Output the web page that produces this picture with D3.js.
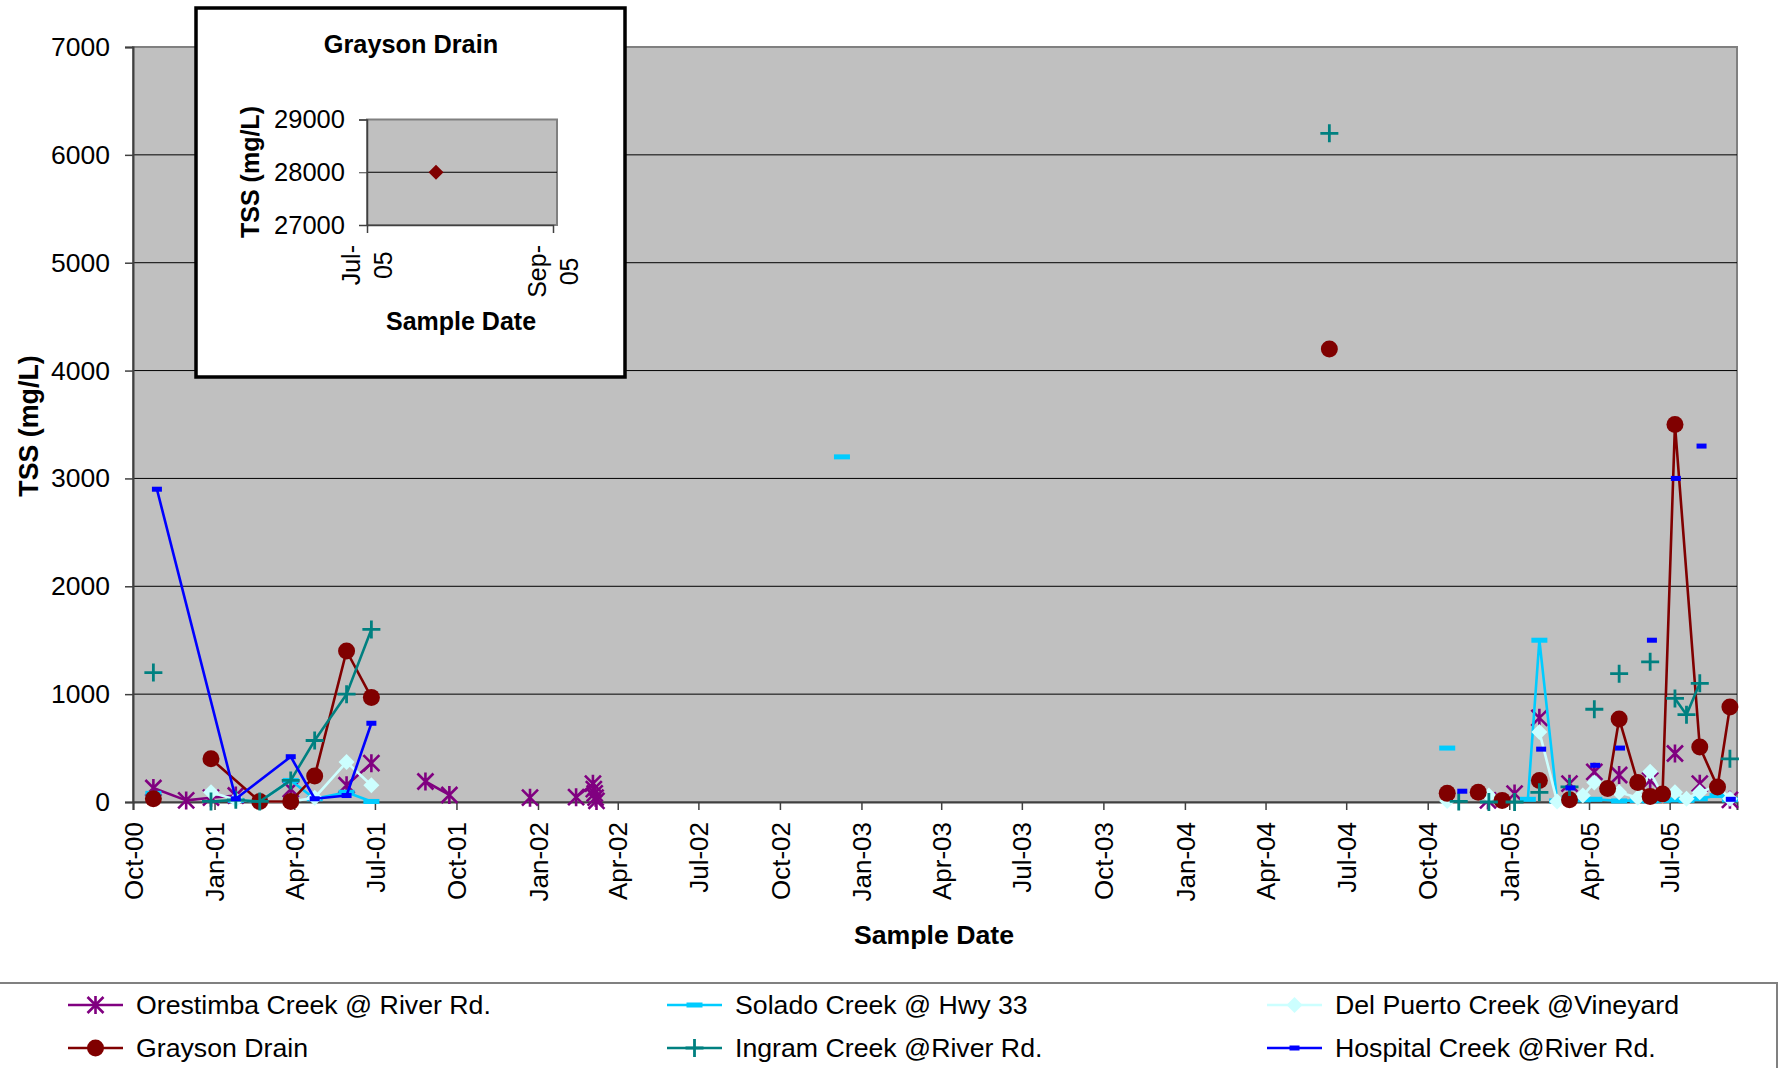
<!DOCTYPE html>
<html><head><meta charset="utf-8">
<script src="https://cdn.jsdelivr.net/npm/d3@7"></script>
<style>html,body{margin:0;padding:0;background:#fff;} svg{display:block;font-family:"Liberation Sans",Arial,sans-serif;}</style>
</head><body>
<svg id="chart" width="1780" height="1068"></svg>
<script>
// ---------- DATA ----------
const yTickValues = [0,1000,2000,3000,4000,5000,6000,7000];
const insetYTickValues = [27000,28000,29000];
const insetXTickLabels = ["2005-07-01","2005-09-01"];
const seriesNames = ["Orestimba Creek @ River Rd.","Solado Creek @ Hwy 33","Del Puerto Creek @Vineyard","Grayson Drain","Ingram Creek @River Rd.","Hospital Creek @River Rd."];

// null entries = break in the line
const orestimbaDates = ["2000-10-24","2000-11-30","2000-12-28","2001-01-25",null,"2001-03-28",null,"2001-05-30","2001-06-27",null,"2001-08-27","2001-09-23",null,"2001-12-23",null,"2002-02-13","2002-03-04","2002-03-05","2002-03-06","2002-03-07","2002-03-08",null,"2004-12-08",null,"2005-01-07",null,"2005-02-04",null,"2005-03-10",null,"2005-04-07",null,"2005-05-05",null,"2005-06-09",null,"2005-07-07",null,"2005-08-04",null,"2005-09-07"];
const orestimbaValues = [130,15,40,60,null,120,null,155,360,null,190,65,null,40,null,45,170,120,80,40,10,null,15,null,78,null,780,null,170,null,280,null,250,null,200,null,450,null,170,null,20];

const soladoDates = ["2000-10-24",null,"2001-01-25","2001-02-21","2001-03-28","2001-04-24","2001-05-30","2001-06-27",null,"2002-12-10",null,"2004-10-23",null,"2005-01-22","2005-02-04","2005-02-24","2005-03-10","2005-03-25","2005-04-07","2005-05-05","2005-05-26","2005-06-09","2005-06-23","2005-07-07","2005-07-20","2005-08-04","2005-08-24","2005-09-07"];
const soladoValues = [80,null,15,5,200,30,90,5,null,3200,null,500,null,25,1500,10,40,20,25,10,15,10,15,20,15,30,60,20];

const delPuertoDates = ["2000-12-28","2001-01-25","2001-02-21","2001-03-28","2001-04-24","2001-05-30","2001-06-27",null,"2004-10-23",null,"2004-12-09",null,"2005-02-04","2005-02-24","2005-03-10","2005-03-25","2005-04-07","2005-05-05","2005-05-26","2005-06-09","2005-06-23","2005-07-07","2005-07-20","2005-08-04","2005-08-24","2005-09-07"];
const delPuertoValues = [90,20,5,5,40,370,155,null,10,null,60,null,650,5,30,60,180,90,40,280,60,90,30,90,150,30];

const graysonDates = ["2000-10-24",null,"2000-12-28","2001-02-21","2001-03-28","2001-04-24","2001-05-30","2001-06-27",null,"2004-06-12",null,"2004-10-23",null,"2004-11-27",null,"2004-12-24",null,"2005-02-04",null,"2005-03-10",null,"2005-04-22","2005-05-05","2005-05-26","2005-06-09","2005-06-23","2005-07-07","2005-08-04","2005-08-24","2005-09-07"];
const graysonValues = [30,null,400,5,5,240,1400,970,null,4200,null,80,null,90,null,15,null,200,null,20,null,125,770,180,50,75,3500,510,140,880];

const ingramDates = ["2000-10-24",null,"2000-12-28","2001-01-25","2001-02-21","2001-03-28","2001-04-24","2001-05-30","2001-06-27",null,"2004-06-12",null,"2004-11-05",null,"2004-12-09",null,"2005-01-07",null,"2005-02-04",null,"2005-03-10",null,"2005-04-07",null,"2005-05-05",null,"2005-06-09",null,"2005-07-07","2005-07-20","2005-08-04",null,"2005-09-07"];
const ingramValues = [1200,null,5,20,5,200,570,1000,1600,null,6200,null,5,null,0,null,0,null,90,null,140,null,860,null,1190,null,1300,null,960,810,1100,null,400];

const hospitalDates = ["2000-10-28","2001-01-25","2001-03-28","2001-04-24","2001-05-30","2001-06-27",null,"2004-11-09",null,"2005-02-06",null,"2005-03-11",null,"2005-04-08",null,"2005-05-06",null,"2005-06-11",null,"2005-07-08",null,"2005-08-06",null,"2005-09-08"];
const hospitalValues = [2900,30,420,30,60,730,null,100,null,490,null,130,null,340,null,500,null,1500,null,3000,null,3300,null,25];

const insetDates = ["2005-07-24"];
const insetValues = [28000];

// ---------- STYLES ----------
const styles = [
  {color:"#800080", marker:"star"},
  {color:"#00CCFF", marker:"dashL"},
  {color:"#CCFFFF", marker:"diamond"},
  {color:"#800000", marker:"circle"},
  {color:"#008080", marker:"plus"},
  {color:"#0000FF", marker:"dashS"}
];
const seriesData = [
  [orestimbaDates, orestimbaValues],
  [soladoDates, soladoValues],
  [delPuertoDates, delPuertoValues],
  [graysonDates, graysonValues],
  [ingramDates, ingramValues],
  [hospitalDates, hospitalValues]
].map(([ds, vs]) => ds.map((d,i) => ({date: d ? d3.isoParse(d) : null, v: vs[i]})));

const svg = d3.select("#chart");
const FONT = '"Liberation Sans",Arial,sans-serif';

const x = d3.scaleUtc().domain([new Date(Date.UTC(2000,9,1)), new Date(Date.UTC(2005,8,15))]).range([133,1737]);
const y = d3.scaleLinear().domain([0,7000]).range([802,47]);

// plot area
svg.append("rect").attr("x",133).attr("y",47).attr("width",1737-133).attr("height",802-47)
  .attr("fill","#C0C0C0").attr("stroke","#808080").attr("stroke-width",2);
svg.append("g").selectAll("line").data(yTickValues.filter(v=>v>0 && v<7000)).join("line")
  .attr("x1",133).attr("x2",1737).attr("y1",d=>y(d)).attr("y2",d=>y(d))
  .attr("stroke","#000").attr("stroke-width",1);

// y axis
const gy = svg.append("g").attr("transform","translate(133,0)")
  .call(d3.axisLeft(y).tickValues(yTickValues).tickSize(8).tickPadding(15).tickFormat(d3.format("d")));
gy.select(".domain").attr("stroke","#404040").attr("stroke-width",2);
gy.selectAll(".tick line").attr("stroke","#404040").attr("stroke-width",1.5);
gy.selectAll("text").attr("font-size","26.5px").attr("font-family",FONT).attr("fill","#000");

// x axis
const gx = svg.append("g").attr("transform","translate(0,802)")
  .call(d3.axisBottom(x).ticks(d3.utcMonth.every(3)).tickSize(8).tickFormat(d3.utcFormat("%b-%y")));
gx.select(".domain").attr("stroke","#404040").attr("stroke-width",2);
gx.selectAll(".tick line").attr("stroke","#404040").attr("stroke-width",1.5);
gx.selectAll("text").attr("font-size","26px").attr("font-family",FONT).attr("fill","#000")
  .attr("transform","rotate(-90)").attr("text-anchor","end")
  .attr("x",-20).attr("y",0).attr("dy","0.35em");

// titles
svg.append("text").attr("x",934).attr("y",944).attr("text-anchor","middle")
  .attr("font-size","26.7px").attr("font-weight","bold").text("Sample Date");
svg.append("text").attr("transform","translate(38,426) rotate(-90)").attr("text-anchor","middle")
  .attr("font-size","26.8px").attr("font-weight","bold").text("TSS (mg/L)");

// markers
function drawMarker(g, type, color, cx, cy, scale=1) {
  const s = 8*scale;
  if (type==="star") {
    g.append("path").attr("d",`M${cx-s},${cy-s}L${cx+s},${cy+s}M${cx-s},${cy+s}L${cx+s},${cy-s}M${cx},${cy-s-1}L${cx},${cy+s+1}`)
      .attr("stroke",color).attr("stroke-width",2.6).attr("fill","none");
  } else if (type==="plus") {
    g.append("path").attr("d",`M${cx-s-1},${cy}L${cx+s+1},${cy}M${cx},${cy-s-1}L${cx},${cy+s+1}`)
      .attr("stroke",color).attr("stroke-width",2.8).attr("fill","none");
  } else if (type==="circle") {
    g.append("circle").attr("cx",cx).attr("cy",cy).attr("r",8.5*scale).attr("fill",color);
  } else if (type==="diamond") {
    const d = 8*scale;
    g.append("path").attr("d",`M${cx},${cy-d}L${cx+d},${cy}L${cx},${cy+d}L${cx-d},${cy}Z`).attr("fill",color);
  } else if (type==="dashL") {
    g.append("rect").attr("x",cx-8).attr("y",cy-2.5).attr("width",16).attr("height",5).attr("fill",color);
  } else if (type==="dashS") {
    g.append("rect").attr("x",cx-5).attr("y",cy-2.5).attr("width",10).attr("height",5).attr("fill",color);
  }
}

const line = d3.line().defined(d=>d.v!=null).x(d=>x(d.date)).y(d=>y(d.v));
seriesData.forEach((data,i)=>{
  const st = styles[i];
  const g = svg.append("g");
  g.append("path").datum(data).attr("d",line).attr("fill","none")
    .attr("stroke",st.color).attr("stroke-width",2.6).attr("stroke-linejoin","round");
  data.filter(d=>d.v!=null).forEach(d=>drawMarker(g, st.marker, st.color, x(d.date), y(d.v)));
});

// ---------- INSET ----------
const inset = svg.append("g");
inset.append("rect").attr("x",196).attr("y",8).attr("width",429).attr("height",369)
  .attr("fill","#fff").attr("stroke","#000").attr("stroke-width",3.5);
inset.append("text").attr("x",411).attr("y",53).attr("text-anchor","middle")
  .attr("font-size","25.3px").attr("font-weight","bold").text("Grayson Drain");
const xi = d3.scaleUtc().domain([d3.isoParse(insetXTickLabels[0]), d3.isoParse(insetXTickLabels[1])]).range([367,553]);
const yi = d3.scaleLinear().domain([27000,29000]).range([225,119.5]);
inset.append("rect").attr("x",367).attr("y",119.5).attr("width",557-367).attr("height",225-119.5)
  .attr("fill","#C0C0C0").attr("stroke","#808080").attr("stroke-width",2);
inset.selectAll("line.ig").data(insetYTickValues.filter(v=>v>27000 && v<29000)).join("line")
  .attr("x1",367).attr("x2",557).attr("y1",d=>yi(d)).attr("y2",d=>yi(d)).attr("stroke","#000").attr("stroke-width",1);
const giy = inset.append("g").attr("transform","translate(367,0)")
  .call(d3.axisLeft(yi).tickValues(insetYTickValues).tickSize(8).tickPadding(14).tickFormat(d3.format("d")));
giy.select(".domain").attr("stroke","#404040").attr("stroke-width",1.5);
giy.selectAll(".tick line").attr("stroke","#404040");
giy.selectAll("text").attr("font-size","25.5px").attr("font-family",FONT).attr("fill","#000");
const gix = inset.append("g").attr("transform","translate(0,225)")
  .call(d3.axisBottom(xi).tickValues(insetXTickLabels.map(d3.isoParse)).tickSize(8).tickFormat(()=>""));
gix.select(".domain").attr("stroke","#404040").attr("stroke-width",1.5);
gix.selectAll(".tick line").attr("stroke","#404040");
const fmt = d3.utcFormat("%b-");
const fmtY = d3.utcFormat("%y");
insetXTickLabels.map(d3.isoParse).forEach(d=>{
  const cx = xi(d);
  const lines = [fmt(d), fmtY(d)];
  const tmp = [];
  lines.forEach((t,k)=>{
    const tx = inset.append("text").attr("font-size","25px").attr("text-anchor","middle").text(t);
    tmp.push(tx);
  });
  const maxW = d3.max(tmp, t=>t.node().getComputedTextLength());
  const cy = 245 + maxW/2;
  tmp.forEach((t,k)=>{
    const bx = cx - 15.8 + k*31.6 + 8.8;
    t.attr("transform",`translate(${bx},${cy}) rotate(-90)`);
  });
});
inset.append("text").attr("x",461).attr("y",330).attr("text-anchor","middle")
  .attr("font-size","25px").attr("font-weight","bold").text("Sample Date");
inset.append("text").attr("transform","translate(259,172) rotate(-90)").attr("text-anchor","middle")
  .attr("font-size","25px").attr("font-weight","bold").text("TSS (mg/L)");
insetDates.forEach((d,i)=>{
  const cx = xi(d3.isoParse(d)), cy = yi(insetValues[i]);
  inset.append("path").attr("d",`M${cx},${cy-7.5}L${cx+7.5},${cy}L${cx},${cy+7.5}L${cx-7.5},${cy}Z`).attr("fill","#800000");
});

// ---------- LEGEND ----------
const legend = svg.append("g");
legend.append("rect").attr("x",-5).attr("y",983).attr("width",1782).attr("height",100)
  .attr("fill","#fff").attr("stroke","#808080").attr("stroke-width",2);
const colX = [68, 667, 1267];
const rowY = [1005, 1048];
seriesNames.forEach((name,i)=>{
  const cx0 = colX[i%3], cy = rowY[Math.floor(i/3)];
  const st = styles[i];
  legend.append("line").attr("x1",cx0).attr("x2",cx0+55).attr("y1",cy).attr("y2",cy)
    .attr("stroke",st.color).attr("stroke-width",2.6);
  drawMarker(legend, st.marker, st.color, cx0+27.5, cy);
  legend.append("text").attr("x",cx0+68).attr("y",cy).attr("dy","0.35em")
    .attr("font-size","26.7px").attr("fill","#000").text(name);
});
</script>
</body></html>
